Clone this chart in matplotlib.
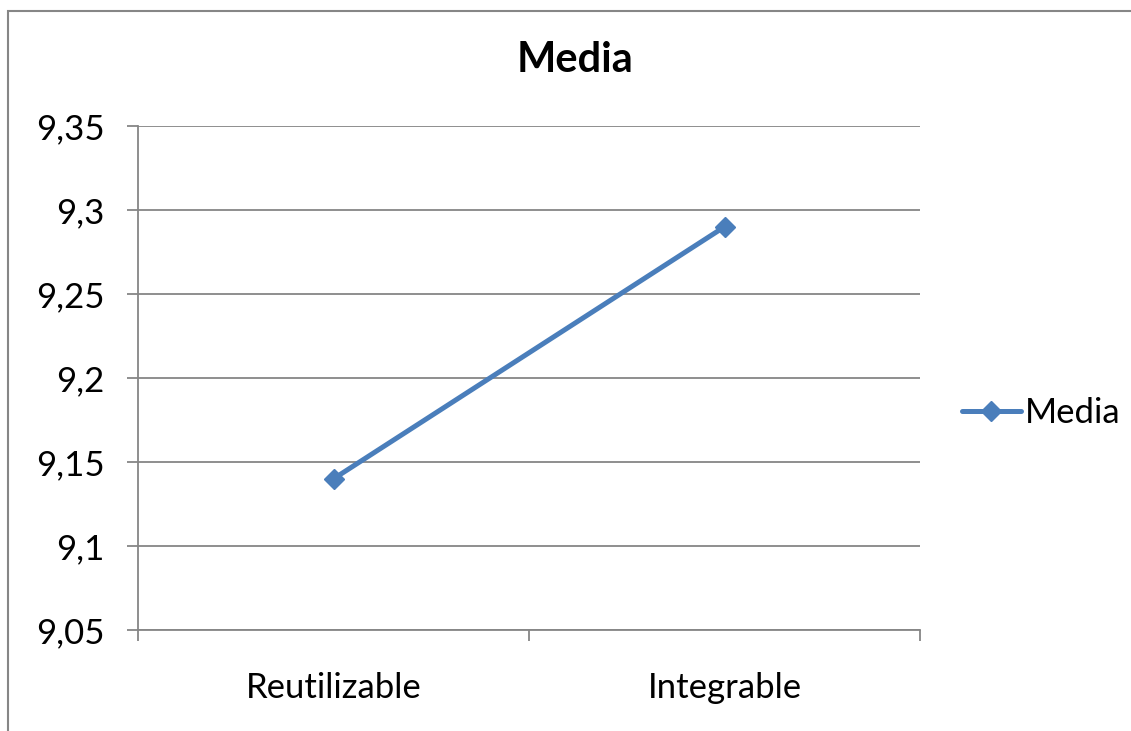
import matplotlib.pyplot as plt
from matplotlib.patches import Rectangle

categories = ['Reutilizable', 'Integrable']
media = [9.14, 9.29]
y_ticks = [9.05, 9.1, 9.15, 9.2, 9.25, 9.3, 9.35]
y_labels = ['9,05', '9,1', '9,15', '9,2', '9,25', '9,3', '9,35']

plt.rcParams['font.family'] = ['Lato', 'DejaVu Sans']
grey = '#868686'
blue = '#4a7ebb'

fig = plt.figure(figsize=(11.31, 7.31), dpi=100)
ax = fig.add_axes([138 / 1131, 1 - 630 / 731, 782 / 1131, 504 / 731])

x = list(range(len(categories)))
ax.plot(x, media, color=blue, lw=3.6, marker='D', ms=10.5, label='Media',
        solid_capstyle='round')

ax.set_xlim(-0.5, len(categories) - 0.5)
ax.set_ylim(y_ticks[0], y_ticks[-1])
ax.set_yticks(y_ticks)
ax.set_yticklabels(y_labels, fontsize=25)
ax.yaxis.grid(True, color=grey, lw=1.3)
ax.set_axisbelow(True)

# category boundaries get the tick marks, labels sit in between
ax.set_xticks([i - 0.5 for i in range(len(categories) + 1)])
ax.set_xticklabels([])
ax.set_xticks(x, minor=True)
ax.set_xticklabels(categories, minor=True, fontsize=25)
ax.tick_params(axis='x', which='minor', length=0, pad=30)
ax.tick_params(axis='x', which='major', length=8, width=1.3, color=grey)
ax.tick_params(axis='y', length=8, width=1.3, color=grey, pad=16)

for side in ['top', 'right']:
    ax.spines[side].set_visible(False)
for side in ['left', 'bottom']:
    ax.spines[side].set_color(grey)
    ax.spines[side].set_linewidth(1.3)

fig.text(575 / 1131, 1 - 60 / 731, 'Media', fontsize=30, fontweight='bold',
         ha='center', va='center')

fig.legend(loc='center left', bbox_to_anchor=(948 / 1131, 1 - 413 / 731),
           frameon=False, fontsize=25, handlelength=1.7, handletextpad=0.1,
           borderaxespad=0)

fig.add_artist(Rectangle((8 / 1131, -0.1), 1.2, 1 - 11 / 731 + 0.1,
                         transform=fig.transFigure, fill=False,
                         edgecolor=grey, lw=1.5))

fig.savefig('out.png', dpi=100)
